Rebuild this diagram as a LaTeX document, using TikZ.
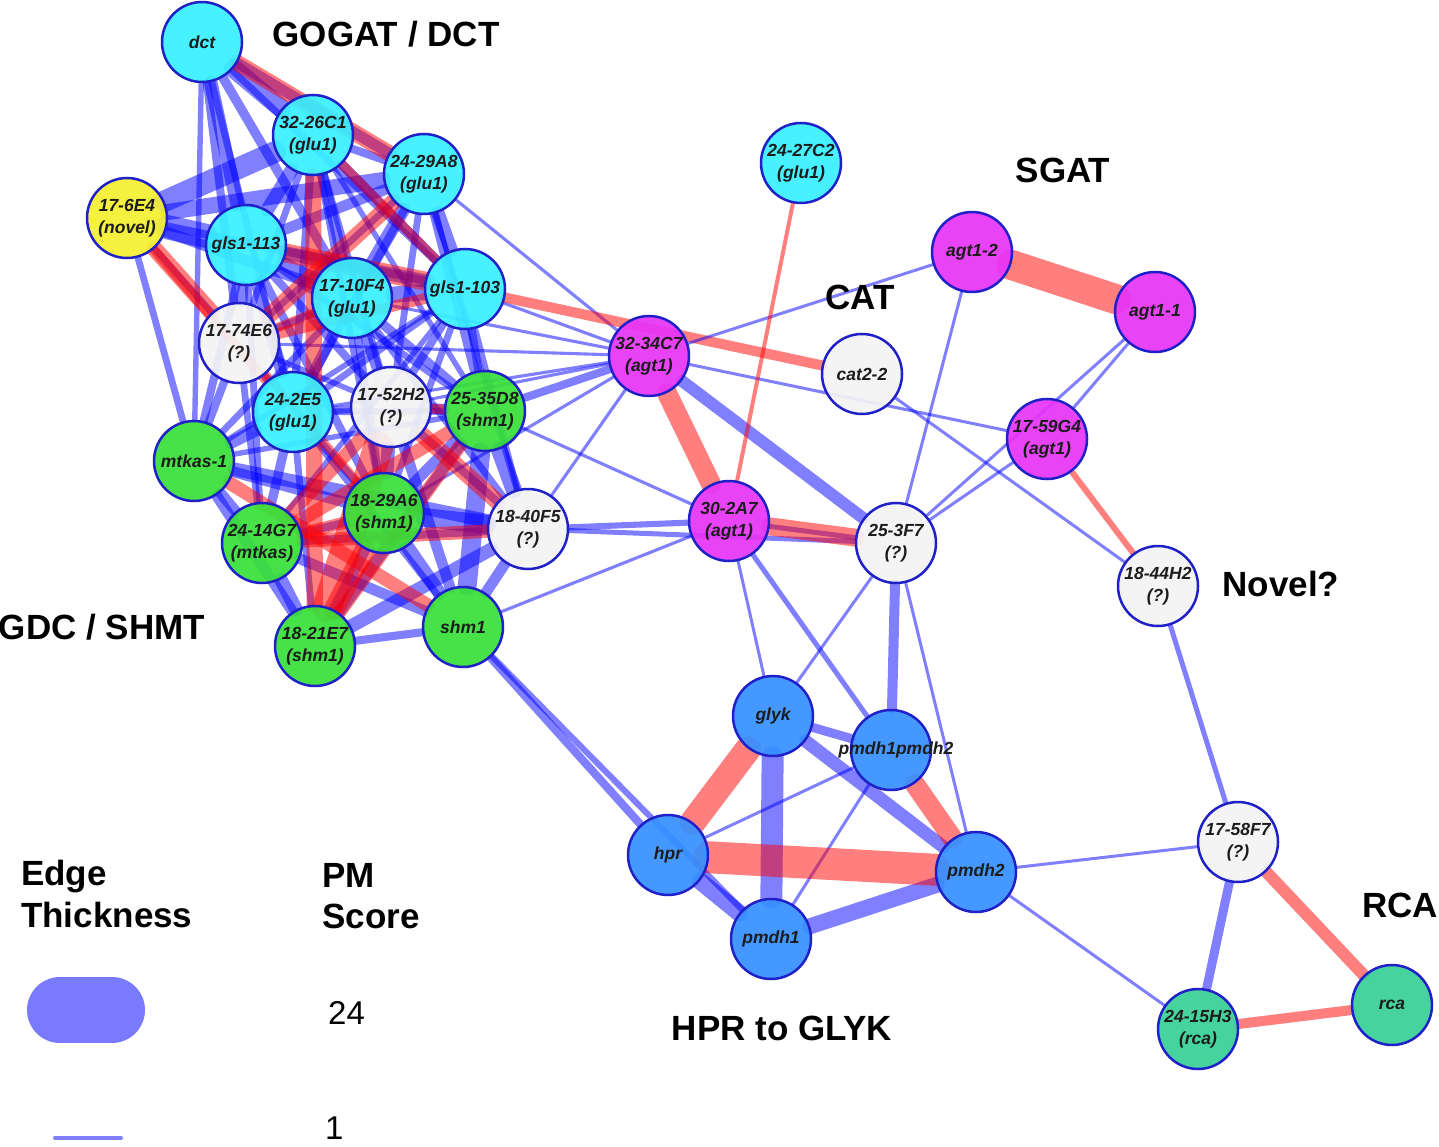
\documentclass[tikz,border=0pt]{standalone}
\usepackage{fontspec}
\setmainfont{Liberation Sans}
\usetikzlibrary{backgrounds}
\definecolor{ncyan}{HTML}{38F0FF}
\definecolor{nyellow}{HTML}{F5F030}
\definecolor{nwhite}{HTML}{F4F4F4}
\definecolor{ngreen}{HTML}{38E038}
\definecolor{nmag}{HTML}{E834F8}
\definecolor{nblue}{HTML}{3590FF}
\definecolor{nteal}{HTML}{38D096}
\definecolor{nborder}{HTML}{2020C8}
\definecolor{ntext}{HTML}{1C1C1C}
\definecolor{eblue}{HTML}{0000FF}
\definecolor{ered}{HTML}{FF0000}
\begin{document}
\begin{tikzpicture}[x=1pt,y=-1pt,
  nd/.style={circle, draw=nborder, line width=2.5pt, minimum size=80pt, inner sep=0pt,
    fill opacity=0.92, text opacity=1, align=center, text=ntext,
    font=\bfseries\itshape\fontsize{17.5}{22}\selectfont},
  ntxt/.style={align=center, text=ntext, inner sep=0pt, font=\bfseries\itshape\fontsize{17.5}{22}\selectfont},
  cy/.style={nd, fill=ncyan},
  ye/.style={nd, fill=nyellow},
  wh/.style={nd, fill=nwhite},
  gr/.style={nd, fill=ngreen},
  mg/.style={nd, fill=nmag},
  bl/.style={nd, fill=nblue},
  te/.style={nd, fill=nteal},
  be/.style={draw=eblue, draw opacity=0.5, line width=#1pt, line cap=round},
  re/.style={draw=ered, draw opacity=0.5, line width=#1pt, line cap=round},
  cbe/.style={draw=eblue, draw opacity=0.5, line width={1.35*#1pt}, line cap=round},
  cre/.style={draw=ered, draw opacity=0.5, line width={1.35*#1pt}, line cap=round},
  lab/.style={font=\bfseries\fontsize{35}{40}\selectfont, anchor=base, inner sep=0pt, text=black},
  leglab/.style={font=\bfseries\fontsize{35}{40}\selectfont, anchor=base west, inner sep=0pt, text=black},
  num/.style={font=\fontsize{33}{38}\selectfont, anchor=base west, inner sep=0pt, text=black}
]
\useasboundingbox (0,0) rectangle (1439,1147);

% nodes
\node[cy] (dct) at (202,42) {dct};
\node[cy] (cA) at (313,135) {32-26C1\\(glu1)};
\node[cy] (cB) at (424,174) {24-29A8\\(glu1)};
\node[ye] (nov) at (127,218) {17-6E4\\(novel)};
\node[cy] (g113) at (246,245) {gls1-113};
\node[cy] (f10) at (352,298) {17-10F4\\(glu1)};
\node[cy] (g103) at (465,289) {gls1-103};
\node[wh] (e74) at (239,343) {17-74E6\\(?)};
\node[cy] (e2) at (293,412) {24-2E5\\(glu1)};
\node[wh] (h52) at (391,407) {17-52H2\\(?)};
\node[gr] (d35) at (485,411) {25-35D8\\(shm1)};
\node[gr] (mk1) at (194,461) {mtkas-1};
\node[gr] (a29) at (384,513) {18-29A6\\(shm1)};
\node[gr] (g14) at (262,543) {24-14G7\\(mtkas)};
\node[wh] (f40) at (528,529) {18-40F5\\(?)};
\node[gr] (shm) at (463,627) {shm1};
\node[gr] (e21) at (315,646) {18-21E7\\(shm1)};
\node[cy] (c27) at (801,163) {24-27C2\\(glu1)};
\node[mg] (ag2) at (972,252) {agt1-2};
\node[mg] (ag1) at (1155,312) {agt1-1};
\node[mg] (c34) at (649,356) {32-34C7\\(agt1)};
\node[wh] (cat) at (862,374) {cat2-2};
\node[mg] (g59) at (1047,439) {17-59G4\\(agt1)};
\node[mg] (a30) at (729,521) {30-2A7\\(agt1)};
\node[wh] (f3) at (896,543) {25-3F7\\(?)};
\node[wh] (h44) at (1158,586) {18-44H2\\(?)};
\node[bl] (glyk) at (773,716) {glyk};
\node[bl] (pp) at (891,750) {};
\node[ntxt] (pptxt) at (896,750) {pmdh1pmdh2};
\node[bl] (hpr) at (668,855) {hpr};
\node[bl] (pm2) at (976,872) {pmdh2};
\node[bl] (pm1) at (771,939) {pmdh1};
\node[wh] (f58) at (1238,842) {17-58F7\\(?)};
\node[te] (h15) at (1198,1029) {24-15H3\\(rca)};
\node[te] (rca) at (1392,1005) {rca};

% group labels
\node[lab] (tGOGAT) at (386,47) {GOGAT / DCT};
\node[lab] (tSGAT) at (1063,183) {SGAT};
\node[lab] (tCAT) at (860,310) {CAT};
\node[lab] (tNovel) at (1281,596) {Novel?};
\node[lab] (tRCA) at (1400,917) {RCA};
\node[lab] (tGDC) at (102,639) {GDC / SHMT};
\node[lab] (tHPR) at (782,1040) {HPR to GLYK};

% legend
\node[leglab] (tEdge) at (21,885) {Edge};
\node[leglab] (tThick) at (21,927) {Thickness};
\node[leglab] (tPM) at (322,887) {PM};
\node[leglab] (tScore) at (322,928) {Score};
\node[num] (t24) at (328,1024) {24};
\node[num] (t1) at (325,1139) {1};
\coordinate (lg1a) at (60,1010);
\coordinate (lg1b) at (112,1010);
\coordinate (lg2a) at (55,1138);
\coordinate (lg2b) at (121,1138);
\draw[draw=eblue, draw opacity=0.52, line width=66pt, line cap=round] (lg1a) -- (lg1b);
\draw[be=4] (lg2a) -- (lg2b);

\begin{pgfonlayer}{background}
\fill[white] (0,0) rectangle (1439,1147);
% blue edges of the dense cluster
\foreach \a/\b/\w in {dct/cA/14, dct/cB/8, dct/g113/10, dct/f10/7, dct/e74/6, dct/e2/5, dct/mk1/4, dct/g103/5,
  nov/cA/16, nov/cB/12, nov/g113/18, nov/f10/8, nov/mk1/5, nov/g103/6, nov/e74/5,
  cA/g113/10, cA/f10/8, cA/cB/6, cA/e2/6, cA/h52/5, cA/g103/7, cA/d35/4, cA/e74/5, cA/a29/5,
  cB/g113/8, cB/f10/10, cB/g103/10, cB/e2/6, cB/h52/5, cB/d35/7, cB/e74/5, cB/f40/4, cB/c34/2.3,
  g113/f10/10, g113/g103/10, g113/e74/8, g113/e2/9, g113/h52/6, g113/mk1/6, g113/a29/6, g113/g14/5, g113/d35/5,
  f10/g103/12, f10/e2/8, f10/h52/8, f10/d35/7, f10/a29/6, f10/e74/5, f10/mk1/5, f10/f40/5, f10/c34/2.3,
  g103/d35/6, g103/h52/6, g103/e2/5, g103/a29/5, g103/f40/4, g103/mk1/4, g103/c34/2.3, g103/g14/4,
  e74/e2/6, e74/mk1/6, e74/g14/5, e74/c34/2.3, e74/h52/4,
  e2/h52/6, e2/mk1/9, e2/a29/6, e2/g14/7, e2/d35/5, e2/shm/5, e2/c34/2.3, e2/e21/5,
  h52/d35/8, h52/a29/10, h52/shm/8, h52/f40/6, h52/c34/2.3,
  d35/f40/12, d35/shm/14, d35/a29/8, d35/c34/6, d35/a30/2.3,
  mk1/g14/8, mk1/a29/8, mk1/e21/8, mk1/f40/10, mk1/d35/4,
  a29/f40/14, a29/shm/10, a29/e21/8, a29/g14/6, a29/c34/2.3,
  g14/e21/10, g14/shm/8, g14/f40/6,
  f40/shm/8, f40/c34/2.3, f40/a30/4.5, f40/f3/3.7,
  shm/e21/6, e21/f40/10, e21/d35/8, shm/a30/2.3, shm/hpr/6, shm/pm1/4.5}
  \draw[cbe=\w] (\a) -- (\b);
% red edges of the dense cluster
\foreach \a/\b/\w in {dct/cB/12, nov/e74/12, nov/e2/7, cA/e21/12, cB/e74/12, g113/g103/14, cA/g103/7,
  e74/g103/8, f10/e74/7, e21/h52/22, e21/a29/15, e21/d35/10, g14/f40/10, mk1/shm/10,
  h52/f40/12, d35/g14/10, h52/d35/7, g14/a29/9, g14/h52/10, e74/a29/6, g103/cat/7.5}
  \draw[cre=\w] (\a) -- (\b);
% other blue edges
\foreach \a/\b/\w in {c34/ag2/3, c34/g59/3, c34/f3/12, a30/f3/5, a30/glyk/3, a30/pp/5, f3/glyk/3,
  f3/pp/10, f3/pm2/3, f3/ag2/3, f3/ag1/3, f3/g59/3, g59/ag1/3, cat/h44/3, h44/f58/5,
  f58/pm2/3, f58/h15/9, pm2/h15/3, glyk/pm1/22, glyk/pp/9, glyk/pm2/13, pp/hpr/3,
  pp/pm1/3, hpr/pm1/17, pm1/pm2/16}
  \draw[be=\w] (\a) -- (\b);
% other red edges
\foreach \a/\b/\w in {c34/a30/20, a30/f3/18, c27/a30/4, g59/h44/6, ag2/ag1/30, hpr/glyk/26,
  hpr/pm2/32, pp/pm2/20, f58/rca/12, h15/rca/10}
  \draw[re=\w] (\a) -- (\b);
\end{pgfonlayer}
\end{tikzpicture}
\end{document}
